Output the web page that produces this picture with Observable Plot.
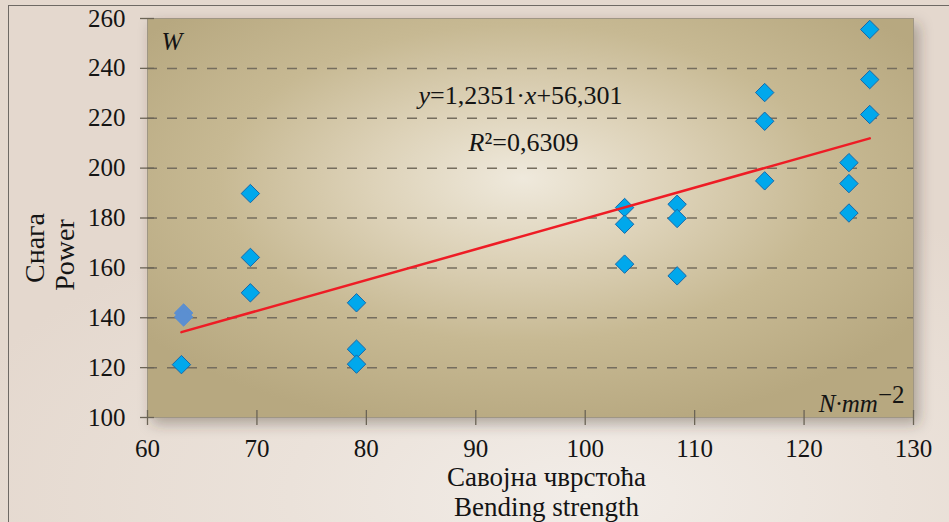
<!DOCTYPE html>
<html>
<head>
<meta charset="utf-8">
<script src="https://cdn.jsdelivr.net/npm/d3@7"></script>
<script src="https://cdn.jsdelivr.net/npm/@observablehq/plot@0.6"></script>
<style>
  html, body { margin: 0; padding: 0; width: 949px; height: 522px; overflow: hidden; }
  body {
    background: radial-gradient(ellipse 70% 60% at 62% 95%, #f2ede8 0%, #ebe2da 45%, #e4d8ce 100%);
    position: relative;
  }
  #border { position: absolute; left: 8px; top: 5px; width: 980px; height: 560px; border: 1.5px solid #6e6964; box-sizing: border-box; }
  #chart { position: absolute; left: 0; top: 0; }
</style>
</head>
<body>
<div id="border"></div>
<div id="chart"></div>
<script>
// ---- data ----
const bending = [63.1, 69.4, 69.4, 69.4, 79.1, 79.1, 79.1, 103.6, 103.6, 103.6, 108.4, 108.4, 108.4, 116.4, 116.4, 116.4, 124.1, 124.1, 124.1, 126.0, 126.0, 126.0];
const power   = [121.2, 189.8, 164.2, 150.0, 146.0, 127.4, 121.4, 184.2, 177.5, 161.5, 185.5, 179.8, 156.8, 230.3, 218.8, 194.9, 202.2, 193.8, 182.0, 255.6, 235.5, 221.5];
// two overlapping points drawn in a darker blue
const bendingOverlap = [63.3, 63.3];
const powerOverlap   = [141.9, 140.3];

const slope = 1.2351, intercept = 56.301;
const xTicks = [60, 70, 80, 90, 100, 110, 120, 130];
const yTicks = [100, 120, 140, 160, 180, 200, 220, 240, 260];
const gridY  = [120, 140, 160, 180, 200, 220, 240];

const eqText = "y=1,2351·x+56,301";
const r2Text = "R²=0,6309";
const unitY = "W";
const unitX = "N·mm−2";
const yTitle1 = "Снага", yTitle2 = "Power";
const xTitle = "Савојна чврстоћа\nBending strength";

const points = bending.map((b, i) => ({b, p: power[i]}));
const overlap = bendingOverlap.map((b, i) => ({b, p: powerOverlap[i]}));
const xMin = d3.min(bending), xMax = d3.max(bending);
const trend = [xMin, xMax].map(b => ({b, p: slope * b + intercept}));

const font = "'Liberation Serif', 'Times New Roman', serif";
const ink = "#141414";
const tickColor = "#6b6456";

const plot = Plot.plot({
  width: 949,
  height: 522,
  marginLeft: 147,
  marginRight: 36,
  marginTop: 18,
  marginBottom: 105,
  style: {fontFamily: font, fontSize: "25px", background: "transparent", color: ink, overflow: "visible"},
  x: {domain: [60, 130], label: null},
  y: {domain: [100, 260], label: null},
  marks: [
    Plot.frame({fill: "url(#bgGrad)", stroke: "#9f9684", strokeWidth: 1}),
    Plot.ruleY(gridY, {stroke: "#756d5e", strokeWidth: 1.5, strokeDasharray: "10,10"}),
    // tick marks crossing the axes
    Plot.axisY({ticks: yTicks, tickSize: 14, dx: 7, fill: "none", stroke: tickColor, strokeWidth: 1.3, label: null}),
    Plot.axisX({ticks: xTicks, tickSize: 15, dy: -7, fill: "none", stroke: tickColor, strokeWidth: 1.3, label: null}),
    // tick labels
    Plot.axisY({ticks: yTicks, tickSize: 0, tickPadding: 22, fontSize: 25, fill: ink, label: null}),
    Plot.axisX({ticks: xTicks, tickSize: 0, tickPadding: 22, fontSize: 25, fill: ink, label: null}),
    // points
    Plot.dot(points, {x: "b", y: "p", symbol: "diamond2", r: 8.3, fill: "#00a8ec", stroke: "#1668aa", strokeWidth: 1}),
    Plot.dot(overlap, {x: "b", y: "p", symbol: "diamond2", r: 8.3, fill: "#5b8fd1", stroke: "#5b8fd1", strokeWidth: 1}),
    // trend line
    Plot.line(trend, {x: "b", y: "p", stroke: "#ee1c25", strokeWidth: 2.5}),
    // annotations
    Plot.text([unitY], {text: d => d, frameAnchor: "top-left", textAnchor: "start", lineAnchor: "bottom", dx: 14, dy: 31, fontSize: 25, fontStyle: "italic", fill: ink}),
    Plot.text([eqText], {text: d => d, frameAnchor: "top", textAnchor: "middle", lineAnchor: "bottom", dx: -10, dy: 85, fontSize: 26, fill: ink}),
    Plot.text([r2Text], {text: d => d, frameAnchor: "top", textAnchor: "middle", lineAnchor: "bottom", dx: -7, dy: 132, fontSize: 26, fill: ink}),
    Plot.text([unitX], {text: d => d, frameAnchor: "bottom-right", textAnchor: "end", lineAnchor: "bottom", dx: -9, dy: -6, fontSize: 25, fill: ink}),
    // axis titles
    Plot.text([xTitle], {text: d => d, frameAnchor: "bottom", textAnchor: "middle", lineAnchor: "bottom", lineHeight: 1.08, dx: 16, dy: 98, fontSize: 27, fill: ink}),
    Plot.text([yTitle1], {text: d => d, frameAnchor: "left", textAnchor: "middle", lineAnchor: "bottom", rotate: -90, dx: -104, dy: 30, fontSize: 28, fill: ink}),
    Plot.text([yTitle2], {text: d => d, frameAnchor: "left", textAnchor: "middle", lineAnchor: "bottom", rotate: -90, dx: -74, dy: 37, fontSize: 28, fill: ink})
  ]
});

// gradient background + drop shadow definitions
const ns = "http://www.w3.org/2000/svg";
plot.insertAdjacentHTML("afterbegin", `
<defs>
  <radialGradient id="bgGrad" cx="0.49" cy="0.42" r="0.62" fx="0.49" fy="0.4">
    <stop offset="0" stop-color="#efe9dc"/>
    <stop offset="0.32" stop-color="#ddd2b8"/>
    <stop offset="0.64" stop-color="#c7b993"/>
    <stop offset="1" stop-color="#b7a880"/>
  </radialGradient>
  <filter id="shadow" x="-10%" y="-10%" width="125%" height="130%">
    <feDropShadow dx="5" dy="6" stdDeviation="7" flood-color="#3a3026" flood-opacity="0.35"/>
  </filter>
</defs>`);
const frameEl = plot.querySelector('[aria-label="frame"]');
if (frameEl) frameEl.setAttribute("filter", "url(#shadow)");

// mixed italic / superscript styling inside annotation texts
function restyle(content, parts) {
  for (const t of plot.querySelectorAll("text")) {
    if (t.textContent === content) {
      t.textContent = "";
      for (const [s, opt] of parts) {
        const ts = document.createElementNS(ns, "tspan");
        ts.textContent = s;
        if (opt.italic) ts.setAttribute("font-style", "italic");
        if (opt.dy) ts.setAttribute("dy", opt.dy);
        t.appendChild(ts);
      }
    }
  }
}
restyle(eqText, [["y", {italic: true}], ["=1,2351·", {}], ["x", {italic: true}], ["+56,301", {}]]);
restyle(r2Text, [["R", {italic: true}], ["²=0,6309", {}]]);
restyle(unitX, [["N·mm", {italic: true}], ["−2", {dy: -9}]]);

document.getElementById("chart").appendChild(plot);
</script>
</body>
</html>
